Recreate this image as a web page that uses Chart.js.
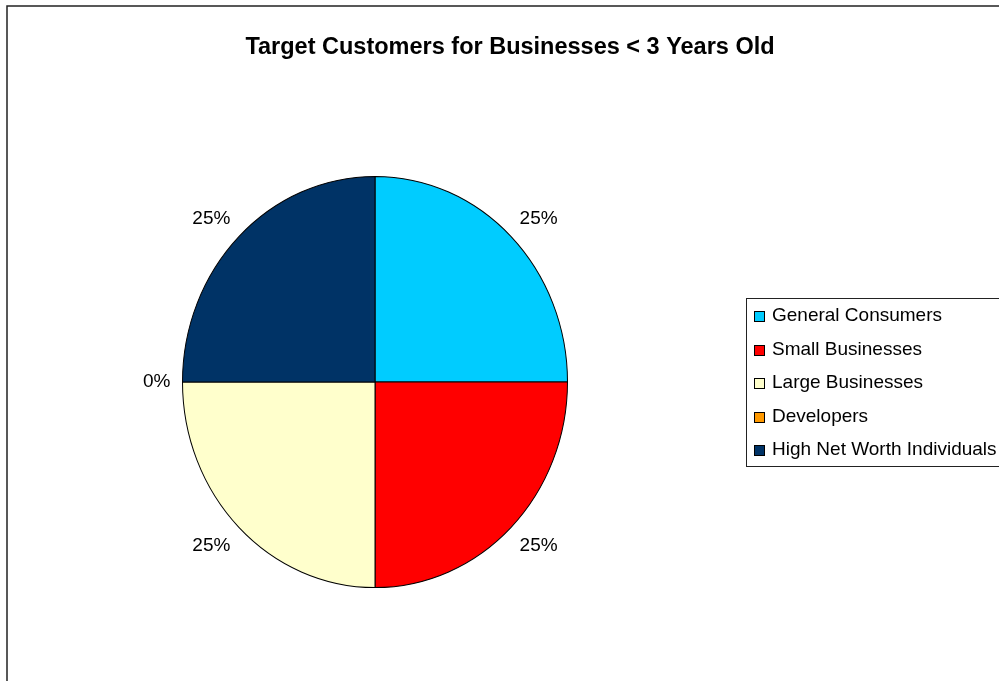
<!DOCTYPE html>
<html>
<head>
<meta charset="utf-8">
<script src="https://cdn.jsdelivr.net/npm/chart.js@4.4.0/dist/chart.umd.min.js"></script>
<style>
    html, body { margin: 0; padding: 0; background: #fff; }
    #wrap { position: relative; width: 999px; height: 681px; }
</style>
</head>
<body>
<div id="wrap"><canvas id="pieChart"></canvas></div>
<script>
// chart data
const chartTitle = 'Target Customers for Businesses < 3 Years Old';
const categories = ['General Consumers', 'Small Businesses', 'Large Businesses', 'Developers', 'High Net Worth Individuals'];
const shares = [25, 25, 25, 0, 25];
const sliceColors = ['#00CCFF', '#FF0000', '#FFFFCC', '#FF9900', '#003366'];

const FONT = '"Liberation Sans", Arial, sans-serif';
const STRETCH_Y = 205 / 192; // pie in the original is a little taller than wide

// frame, title, data labels and the boxed legend
const excelLook = {
    id: 'excelLook',
    beforeDraw(chart) {
        const ctx = chart.ctx;
        ctx.save();
        ctx.strokeStyle = '#222';
        ctx.lineWidth = 1.5;
        ctx.strokeRect(7, 6, 1100, 1000);
        ctx.restore();
    },
    beforeDatasetsDraw(chart) {
        const arc = chart.getDatasetMeta(0).data[0];
        const ctx = chart.ctx;
        ctx.save();
        ctx.translate(arc.x, arc.y);
        ctx.scale(1, STRETCH_Y);
        ctx.translate(-arc.x, -arc.y);
    },
    afterDatasetsDraw(chart) {
        chart.ctx.restore();
    },
    afterDraw(chart) {
        const ctx = chart.ctx;
        const total = shares.reduce((a, b) => a + b, 0);
        ctx.save();

        // title
        ctx.fillStyle = '#000';
        ctx.font = 'bold 23.5px ' + FONT;
        ctx.textAlign = 'center';
        ctx.textBaseline = 'middle';
        ctx.fillText(chartTitle, 510, 48);

        // percentage labels outside each slice
        ctx.font = '19px ' + FONT;
        const arcs = chart.getDatasetMeta(0).data;
        arcs.forEach((arc, i) => {
            const mid = (arc.startAngle + arc.endAngle) / 2;
            const txt = Math.round(shares[i] / total * 100) + '%';
            const w = ctx.measureText(txt).width;
            const h = 19;
            const cos = Math.cos(mid), sin = Math.sin(mid);
            const ex = arc.x + cos * arc.outerRadius;
            const ey = arc.y + sin * arc.outerRadius * STRETCH_Y;
            const gap = 12;
            const sx = Math.abs(cos) > 0.01 ? Math.sign(cos) : 0;
            const sy = Math.abs(sin) > 0.01 ? Math.sign(sin) : 0;
            ctx.fillText(txt, ex + cos * gap + sx * w / 2, ey + sin * gap + sy * h / 2);
        });

        // legend
        const lx = 746, ly = 298;
        ctx.strokeStyle = '#222';
        ctx.lineWidth = 1;
        ctx.strokeRect(lx + 0.5, ly + 0.5, 400, 168);
        ctx.textAlign = 'left';
        categories.forEach((name, i) => {
            const cy = Math.round(316 + i * 33.5);
            ctx.fillStyle = sliceColors[i];
            ctx.fillRect(754, cy - 5, 11, 11);
            ctx.strokeStyle = '#000';
            ctx.strokeRect(754.5, cy - 4.5, 10, 10);
            ctx.fillStyle = '#000';
            ctx.fillText(name, 772, cy);
        });
        ctx.restore();
    }
};

new Chart(document.getElementById('pieChart'), {
    type: 'pie',
    data: {
        labels: categories,
        datasets: [{
            data: shares,
            backgroundColor: sliceColors,
            borderColor: '#000',
            borderWidth: 1
        }]
    },
    options: {
        responsive: true,
        maintainAspectRatio: false,
        animation: false,
        layout: {
            padding: { left: 182, right: 999 - 568, top: 189, bottom: 681 - 575 }
        },
        plugins: {
            legend: { display: false },
            title: { display: false },
            tooltip: { enabled: false }
        }
    },
    plugins: [excelLook]
});
</script>
</body>
</html>
